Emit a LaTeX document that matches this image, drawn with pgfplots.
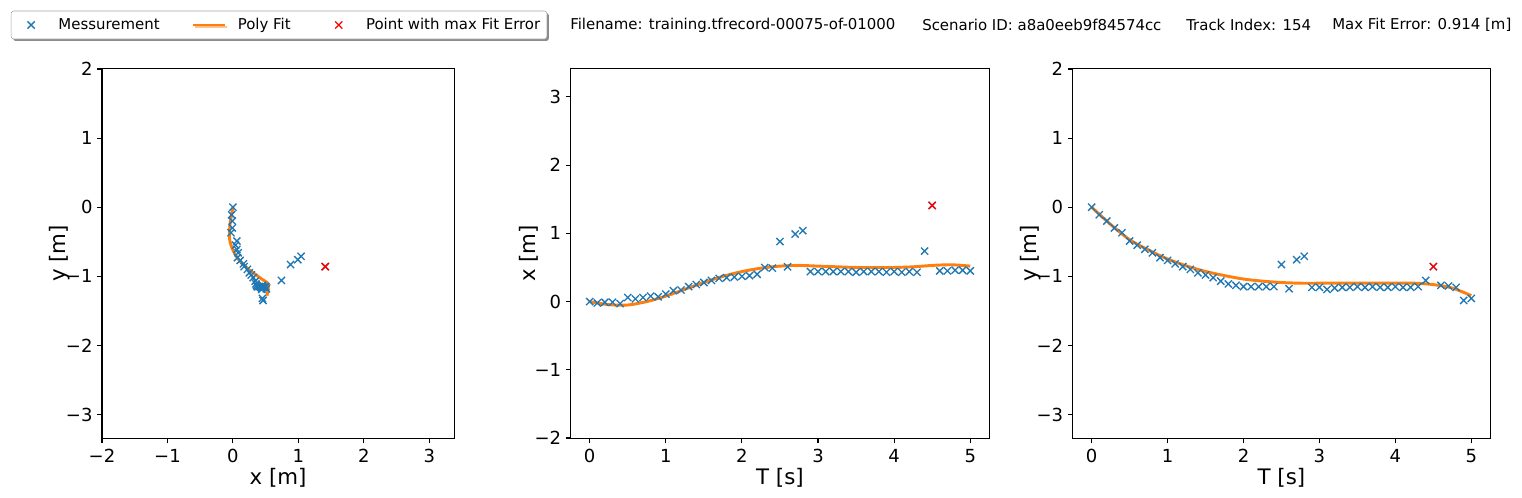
\documentclass[border=0pt]{standalone}
\usepackage{fontspec}
\setmainfont{DejaVu Sans}
\usepackage{pgfplots}
\pgfplotsset{compat=1.18}
\usepackage{pgfplotstable}
\usetikzlibrary{shadows}

\definecolor{tabblue}{HTML}{1F77B4}
\definecolor{taborange}{HTML}{FF7F0E}

% measurements: time, x, y
\pgfplotstableread{
T x y
0.0 0.00 0.00
0.1 -0.02 -0.11
0.2 -0.01 -0.20
0.3 -0.01 -0.30
0.4 -0.03 -0.37
0.5 0.06 -0.49
0.6 0.04 -0.55
0.7 0.06 -0.61
0.8 0.08 -0.66
0.9 0.07 -0.73
1.0 0.11 -0.77
1.1 0.16 -0.82
1.2 0.17 -0.86
1.3 0.22 -0.90
1.4 0.25 -0.95
1.5 0.28 -0.98
1.6 0.31 -1.02
1.7 0.34 -1.07
1.8 0.35 -1.11
1.9 0.36 -1.13
2.0 0.37 -1.15
2.1 0.38 -1.15
2.2 0.40 -1.15
2.3 0.50 -1.15
2.4 0.49 -1.15
2.5 0.88 -0.83
2.6 0.51 -1.18
2.7 0.99 -0.76
2.8 1.04 -0.71
2.9 0.44 -1.16
3.0 0.44 -1.16
3.1 0.44 -1.19
3.2 0.44 -1.17
3.3 0.44 -1.16
3.4 0.44 -1.16
3.5 0.43 -1.15
3.6 0.44 -1.16
3.7 0.44 -1.15
3.8 0.44 -1.16
3.9 0.43 -1.16
4.0 0.44 -1.15
4.1 0.43 -1.16
4.2 0.44 -1.16
4.3 0.43 -1.15
4.4 0.74 -1.06
4.5 1.41 -0.86
4.6 0.45 -1.13
4.7 0.45 -1.14
4.8 0.46 -1.16
4.9 0.46 -1.35
5.0 0.45 -1.32
}\meas

% polynomial fit
\pgfplotstableread{
T x y
0.00 0.000 0.00
0.25 -0.045 -0.25
0.50 -0.050 -0.47
0.75 0.000 -0.62
1.00 0.080 -0.75
1.25 0.180 -0.85
1.50 0.280 -0.93
1.75 0.370 -0.99
2.00 0.440 -1.04
2.25 0.490 -1.07
2.50 0.520 -1.09
2.75 0.530 -1.10
3.00 0.520 -1.10
3.25 0.510 -1.10
3.50 0.500 -1.10
3.75 0.500 -1.10
4.00 0.500 -1.10
4.25 0.510 -1.10
4.50 0.530 -1.12
4.75 0.540 -1.17
5.00 0.520 -1.28
}\fit

\pgfplotstableread{
T x y
4.5 1.41 -0.86
}\maxerr

\pgfplotsset{
  base/.style={
    scale only axis, height=277.8pt,
    axis line style={line width=0.8pt},
    tick align=outside, xtick pos=bottom, ytick pos=left,
    major tick length=3.6pt,
    every tick/.style={black, line width=0.8pt},
    tick label style={font=\fontsize{13.5}{15}\selectfont},
    xticklabel style={yshift=-1pt},
    every axis x label/.style={at={(axis description cs:0.5,0)}, yshift=-29.5pt, anchor=center, font=\fontsize{16}{18}\selectfont},
    every axis y label/.style={at={(axis description cs:0,0.5)}, xshift=-31.5pt, rotate=90, anchor=center, font=\fontsize{16}{18}\selectfont},
  },
  markimg/.style={legend image code/.code={
    \node[draw=none, fill=none, inner sep=0pt, outer sep=0pt, minimum size=0pt] at (0pt,0pt) {};
    \node[draw=none, fill=none, inner sep=0pt, outer sep=0pt, minimum size=0pt] at (24pt,0pt) {};
    \draw[##1] plot coordinates {(12pt,0pt)};}},
  meas/.style={only marks, mark=x, mark size=3.8pt, color=tabblue, line width=1pt, markimg},
  polyfit/.style={no markers, smooth, color=taborange, line width=2.2pt,
    legend image code/.code={\draw[##1] (0pt,0pt) -- (24pt,0pt);}},
  worst/.style={only marks, mark=x, mark size=3.8pt, color=red, line width=1pt, markimg},
}

\begin{document}
\begin{tikzpicture}
\path[use as bounding box] (0pt,0pt) rectangle (1141.5pt,373.5pt);

% left: y over x
\begin{axis}[base,
  at={(76.5pt,44.475pt)}, anchor=south west, width=264.2pt,
  xmin=-2.0, xmax=3.38, ymin=-3.35, ymax=2.01,
  xtick={-2,-1,0,1,2,3}, xticklabels={−2,−1,0,1,2,3},
  ytick={-3,-2,-1,0,1,2}, yticklabels={−3,−2,−1,0,1,2},
  xlabel={x [m]}, ylabel={y [m]},
  legend columns=3,
  legend style={at={(0.5025,1.1169)}, anchor=center,
    font=\fontsize{11.2}{13}\selectfont,
    draw=black!35, rounded corners=2pt, fill=white,
    drop shadow={shadow xshift=1.5pt, shadow yshift=-1.5pt, fill=black, opacity=0.45},
    inner xsep=3pt, inner ysep=3.5pt,
    /tikz/every odd column/.append style={column sep=6.5pt},
    /tikz/every even column/.append style={column sep=22pt}},
  legend cell align=left,
]
\addplot[meas] table[x=x, y=y] {\meas};
\addlegendentry{Messurement}
\addplot[polyfit] table[x=x, y=y] {\fit};
\addlegendentry{Poly Fit}
\addplot[worst] table[x=x, y=y] {\maxerr};
\addlegendentry{Point with max Fit Error}
\end{axis}

% middle: x over time
\begin{axis}[base,
  at={(428.0pt,44.475pt)}, anchor=south west, width=313.95pt,
  xmin=-0.25, xmax=5.25, ymin=-2.01, ymax=3.42,
  xtick={0,1,2,3,4,5}, xticklabels={0,1,2,3,4,5},
  ytick={-2,-1,0,1,2,3}, yticklabels={−2,−1,0,1,2,3},
  xlabel={T [s]}, ylabel={x [m]},
]
\addplot[meas] table[x=T, y=x] {\meas};
\addplot[polyfit] table[x=T, y=x] {\fit};
\addplot[worst] table[x=T, y=x] {\maxerr};
\end{axis}

% right: y over time
\begin{axis}[base,
  at={(804.5pt,44.475pt)}, anchor=south west, width=313.2pt,
  xmin=-0.25, xmax=5.25, ymin=-3.35, ymax=2.01,
  xtick={0,1,2,3,4,5}, xticklabels={0,1,2,3,4,5},
  ytick={-3,-2,-1,0,1,2}, yticklabels={−3,−2,−1,0,1,2},
  xlabel={T [s]}, ylabel={y [m]},
]
\addplot[meas] table[x=T, y=y] {\meas};
\addplot[polyfit] table[x=T, y=y] {\fit};
\addplot[worst] table[x=T, y=y] {\maxerr};
\end{axis}

% header text
\begin{scope}[every node/.style={anchor=west, inner sep=0pt, font=\fontsize{11.2}{13}\selectfont}]
\node at (427.5pt,354.75pt) {Filename: training.tfrecord-00075-of-01000};
\node at (691.5pt,354.75pt) {Scenario ID: a8a0eeb9f84574cc};
\node at (889.5pt,354.75pt) {Track Index: 154};
\node at (999pt,354.75pt) {Max Fit Error: 0.914 [m]};
\end{scope}
\end{tikzpicture}
\end{document}
